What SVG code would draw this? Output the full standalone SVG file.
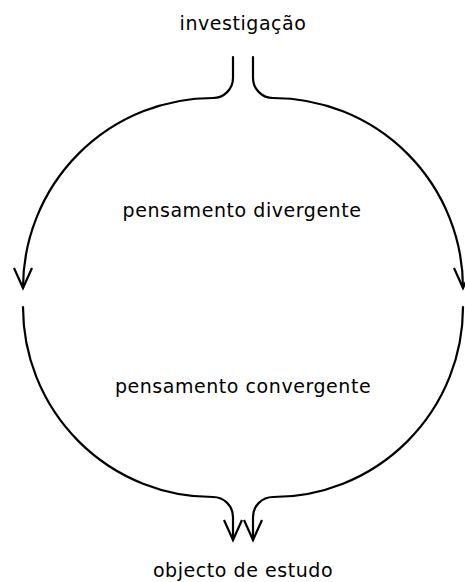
<svg xmlns="http://www.w3.org/2000/svg" width="465" height="582" viewBox="0 0 465 582">
<defs>
<style>
.t{font-family:"DejaVu Sans",Verdana,sans-serif;font-size:19px;letter-spacing:0.55px;fill:#000;text-anchor:middle}
.c{fill:none;stroke:#000;stroke-width:2.2;stroke-linecap:round}
</style>
<marker id="ah" viewBox="0 0 24 24" markerWidth="24" markerHeight="24" refX="21" refY="12" orient="auto" markerUnits="userSpaceOnUse">
<path d="M1,3 L21,12 L1,21" fill="none" stroke="#000" stroke-width="2.2" stroke-linejoin="miter"/>
</marker>
</defs>
<rect width="465" height="582" fill="#fff"/>
<g id="connectors">
<path class="c" d="M233,57 L233,78 A20,20 0 0 1 213,98 A190,190 0 0 0 23,288" marker-end="url(#ah)"/>
<path class="c" d="M253,57 L253,78 A20,20 0 0 0 273,98 A190,190 0 0 1 463,288" marker-end="url(#ah)"/>
<path class="c" d="M23,307 A190,190 0 0 0 213,497 A20,20 0 0 1 233,517 L233,540" marker-end="url(#ah)"/>
<path class="c" d="M463,307 A190,190 0 0 1 273,497 A20,20 0 0 0 253,517 L253,540" marker-end="url(#ah)"/>
</g>
<g id="investigacao"><text class="t" x="243" y="30">investigação</text></g>
<g id="divergente"><text class="t" x="242" y="217">pensamento divergente</text></g>
<g id="convergente"><text class="t" x="243" y="393">pensamento convergente</text></g>
<g id="objecto"><text class="t" x="243" y="577">objecto de estudo</text></g>
</svg>
